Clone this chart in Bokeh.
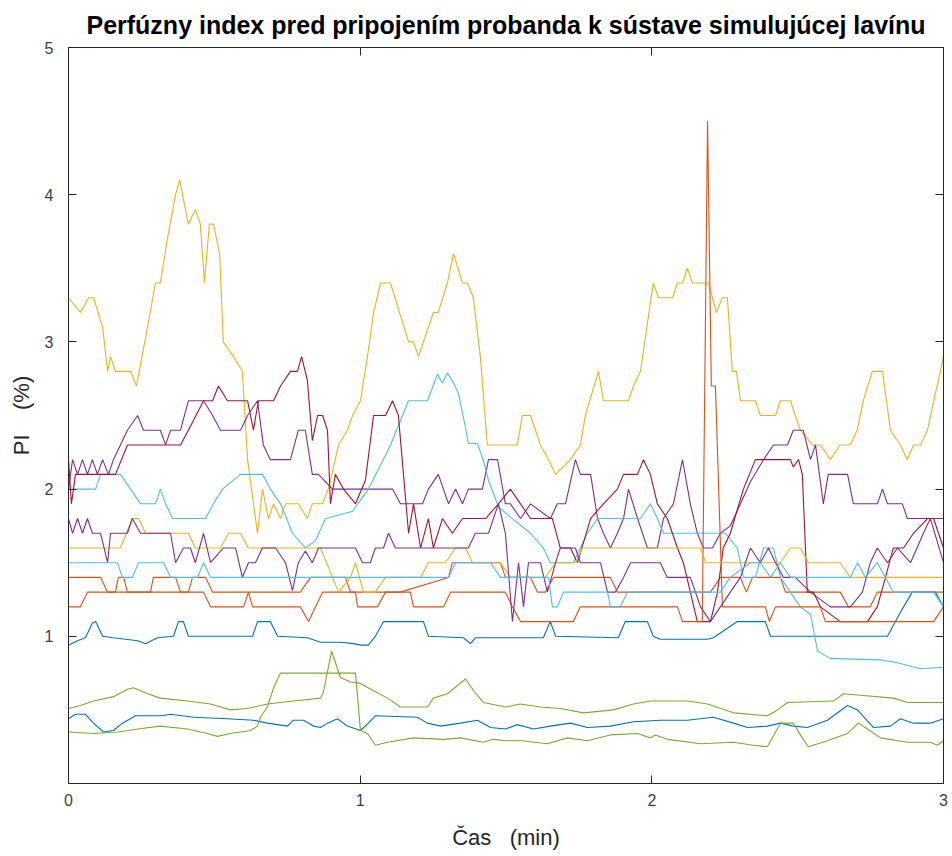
from bokeh.plotting import figure
from bokeh.models import Range1d, FixedTicker, LinearAxis
from bokeh.embed import file_html
from bokeh.resources import INLINE

# Perfusion index recordings: (time [min], PI [%]) per proband
pi_blue_1 = [(0, 0.94), (0.031, 0.97), (0.058, 0.99), (0.082, 1.09), (0.093, 1.1), (0.117, 1.0), (0.154, 0.99),
             (0.237, 0.97), (0.264, 0.95), (0.305, 0.99), (0.36, 1.0), (0.377, 1.1), (0.394, 1.1), (0.411, 1.0),
             (0.631, 1.0), (0.648, 1.1), (0.692, 1.1), (0.717, 1.0), (0.819, 0.99), (0.864, 0.96), (0.932, 0.96),
             (0.977, 0.95), (1.001, 0.94), (1.028, 0.94), (1.052, 1.0), (1.08, 1.1), (1.217, 1.1), (1.234, 1.0),
             (1.354, 0.99), (1.378, 0.95), (1.395, 0.99), (1.628, 0.99), (1.652, 1.1), (1.67, 1.0), (1.885, 0.99),
             (1.909, 1.1), (1.985, 1.1), (2.005, 1.0), (2.029, 0.98), (2.191, 0.98), (2.211, 0.99), (2.293, 1.1),
             (2.389, 1.1), (2.407, 1.0), (2.808, 1.0), (2.835, 1.1), (2.863, 1.2), (2.893, 1.3), (2.972, 1.3),
             (3.0, 1.2)]

pi_orange_1 = [(0, 1.4), (0.11, 1.4), (0.134, 1.3), (0.161, 1.3), (0.171, 1.4), (0.189, 1.4), (0.202, 1.3),
               (0.281, 1.3), (0.291, 1.4), (0.367, 1.4), (0.384, 1.3), (0.411, 1.3), (0.425, 1.4), (0.47, 1.4),
               (0.494, 1.3), (0.795, 1.3), (0.83, 1.4), (0.949, 1.4), (0.967, 1.3), (1.138, 1.3), (1.303, 1.4),
               (1.316, 1.5), (1.481, 1.5), (1.498, 1.4), (1.584, 1.4), (1.608, 1.3), (1.635, 1.3), (1.663, 1.4),
               (1.858, 1.4), (1.882, 1.3), (2.201, 1.3), (2.235, 1.4), (2.304, 1.4), (2.324, 1.3), (2.345, 1.4),
               (2.441, 1.4), (2.458, 1.3), (2.646, 1.3), (2.674, 1.2), (2.749, 1.2), (2.773, 1.3), (3.0, 1.3)]

pi_yellow_1 = [(0, 3.3), (0.041, 3.2), (0.069, 3.3), (0.086, 3.3), (0.117, 3.1), (0.134, 2.8), (0.144, 2.9),
               (0.161, 2.8), (0.213, 2.8), (0.233, 2.7), (0.271, 3.1), (0.298, 3.4), (0.315, 3.4), (0.339, 3.7),
               (0.367, 4.0), (0.381, 4.1), (0.411, 3.8), (0.435, 3.9), (0.452, 3.8), (0.466, 3.4), (0.483, 3.8),
               (0.497, 3.8), (0.518, 3.6), (0.531, 3.0), (0.566, 2.9), (0.596, 2.8), (0.614, 2.2), (0.648, 1.7),
               (0.665, 2.0), (0.686, 1.8), (0.703, 1.9), (0.727, 1.8), (0.744, 1.9), (0.788, 1.9), (0.819, 1.8),
               (0.836, 1.9), (0.871, 1.9), (0.891, 2.0), (0.926, 2.3), (0.956, 2.4), (0.974, 2.5), (1.001, 2.6),
               (1.025, 2.9), (1.046, 3.2), (1.07, 3.4), (1.104, 3.4), (1.166, 3.0), (1.183, 3.0), (1.2, 2.9),
               (1.251, 3.2), (1.268, 3.2), (1.299, 3.4), (1.32, 3.6), (1.351, 3.4), (1.368, 3.4), (1.388, 3.3),
               (1.412, 2.9), (1.436, 2.3), (1.539, 2.3), (1.556, 2.5), (1.584, 2.5), (1.618, 2.3), (1.646, 2.2),
               (1.67, 2.1), (1.721, 2.2), (1.755, 2.3), (1.772, 2.5), (1.817, 2.8), (1.834, 2.6), (1.92, 2.6),
               (1.937, 2.7), (1.961, 2.8), (2.005, 3.4), (2.023, 3.3), (2.071, 3.3), (2.088, 3.4), (2.105, 3.4),
               (2.122, 3.5), (2.139, 3.4), (2.194, 3.4), (2.208, 3.3), (2.221, 3.2), (2.242, 3.3), (2.259, 3.3),
               (2.276, 2.8), (2.29, 2.8), (2.304, 2.6), (2.355, 2.6), (2.372, 2.5), (2.424, 2.5), (2.441, 2.6),
               (2.475, 2.6), (2.509, 2.4), (2.551, 2.3), (2.578, 2.3), (2.612, 2.2), (2.646, 2.3), (2.68, 2.3),
               (2.704, 2.4), (2.725, 2.6), (2.756, 2.8), (2.791, 2.8), (2.818, 2.4), (2.852, 2.3), (2.876, 2.2),
               (2.897, 2.3), (2.921, 2.3), (2.945, 2.4), (3.0, 2.9)]

pi_purple_1 = [(0, 2.0), (0.014, 2.2), (0.031, 2.1), (0.048, 2.2), (0.065, 2.1), (0.082, 2.2), (0.099, 2.1),
               (0.117, 2.2), (0.137, 2.1), (0.154, 2.2), (0.202, 2.4), (0.237, 2.5), (0.257, 2.4), (0.315, 2.4),
               (0.333, 2.3), (0.35, 2.4), (0.384, 2.4), (0.411, 2.6), (0.463, 2.6), (0.494, 2.5), (0.521, 2.4),
               (0.59, 2.4), (0.614, 2.5), (0.648, 2.6), (0.668, 2.3), (0.692, 2.2), (0.761, 2.2), (0.788, 2.4),
               (0.812, 2.4), (0.836, 2.1), (0.857, 2.1), (0.905, 2.0), (1.111, 2.0), (1.138, 1.9), (1.214, 1.9),
               (1.234, 2.0), (1.268, 2.1), (1.303, 1.9), (1.327, 2.0), (1.351, 1.9), (1.371, 2.0), (1.419, 2.0),
               (1.44, 2.2), (1.471, 2.2), (1.498, 1.9), (1.515, 1.9), (1.55, 1.8), (1.584, 1.9), (1.652, 1.8),
               (1.676, 1.9), (1.704, 1.9), (1.738, 2.2), (1.755, 2.1), (1.79, 2.1), (1.814, 1.8), (1.834, 1.7),
               (1.858, 1.6), (1.882, 1.7), (1.903, 1.8), (1.92, 2.0), (1.951, 1.8), (1.985, 1.6), (2.019, 1.6),
               (2.04, 1.8), (2.074, 1.9), (2.105, 2.2), (2.132, 1.9), (2.156, 1.7), (2.177, 1.6), (2.208, 1.6),
               (2.235, 1.7), (2.269, 1.75), (2.304, 1.9), (2.338, 2.05), (2.383, 2.2), (2.417, 2.3), (2.465, 2.3),
               (2.485, 2.4), (2.519, 2.4), (2.544, 2.2), (2.561, 2.3), (2.588, 1.9), (2.605, 2.1), (2.671, 2.1),
               (2.691, 1.9), (2.773, 1.9), (2.791, 2.0), (2.808, 1.9), (2.859, 1.9), (2.876, 1.8), (3.0, 1.8)]

pi_green_1 = [(0, 0.51), (0.041, 0.53), (0.086, 0.56), (0.154, 0.59), (0.202, 0.64), (0.223, 0.65), (0.271, 0.61),
              (0.315, 0.58), (0.408, 0.56), (0.487, 0.54), (0.555, 0.5), (0.614, 0.51), (0.682, 0.54),
              (0.771, 0.56), (0.864, 0.58), (0.874, 0.62), (0.902, 0.9), (0.932, 0.72), (0.967, 0.69),
              (1.001, 0.68), (1.046, 0.63), (1.094, 0.58), (1.138, 0.52), (1.231, 0.52), (1.251, 0.58),
              (1.299, 0.61), (1.361, 0.71), (1.389, 0.63), (1.423, 0.55), (1.498, 0.52), (1.549, 0.54),
              (1.618, 0.52), (1.686, 0.51), (1.766, 0.48), (1.868, 0.5), (1.937, 0.54), (1.995, 0.56),
              (2.122, 0.56), (2.191, 0.54), (2.28, 0.48), (2.396, 0.46), (2.431, 0.5), (2.465, 0.55),
              (2.623, 0.56), (2.657, 0.61), (2.715, 0.6), (2.828, 0.58), (2.876, 0.55), (3.0, 0.55)]

pi_lightblue_1 = [(0, 2.0), (0.093, 2.0), (0.11, 2.1), (0.178, 2.1), (0.213, 2.0), (0.247, 1.9), (0.298, 1.9),
                  (0.315, 2.0), (0.333, 1.9), (0.357, 1.8), (0.47, 1.8), (0.497, 1.9), (0.528, 2.0), (0.59, 2.1),
                  (0.665, 2.1), (0.692, 2.0), (0.727, 1.9), (0.768, 1.7), (0.812, 1.6), (0.847, 1.65),
                  (0.881, 1.8), (0.974, 1.85), (1.028, 2.0), (1.087, 2.23), (1.104, 2.3), (1.145, 2.5),
                  (1.166, 2.6), (1.231, 2.6), (1.265, 2.78), (1.282, 2.72), (1.299, 2.79), (1.32, 2.72),
                  (1.337, 2.65), (1.361, 2.42), (1.371, 2.31), (1.402, 2.31), (1.423, 2.19), (1.44, 2.06),
                  (1.474, 1.88), (1.515, 1.81), (1.584, 1.7), (1.628, 1.6), (1.652, 1.5), (1.731, 1.5),
                  (1.779, 1.7), (1.814, 1.8), (1.961, 1.8), (1.995, 1.9), (2.019, 1.8), (2.04, 1.7), (2.201, 1.7),
                  (2.252, 1.7), (2.293, 1.6), (2.314, 1.4), (2.355, 1.4), (2.383, 1.6), (2.417, 1.6), (2.441, 1.4),
                  (2.475, 1.3), (2.509, 1.2), (2.544, 1.15), (2.568, 0.9), (2.612, 0.85), (2.784, 0.84),
                  (2.842, 0.82), (2.921, 0.78), (3.0, 0.79)]

pi_darkred_1 = [(0, 2.2), (0.01, 1.9), (0.024, 2.1), (0.161, 2.1), (0.202, 2.3), (0.384, 2.3), (0.411, 2.4),
                (0.463, 2.6), (0.494, 2.6), (0.514, 2.7), (0.545, 2.6), (0.614, 2.6), (0.634, 2.4), (0.651, 2.6),
                (0.703, 2.6), (0.727, 2.7), (0.761, 2.8), (0.785, 2.8), (0.799, 2.9), (0.819, 2.74), (0.836, 2.33),
                (0.854, 2.5), (0.871, 2.5), (0.888, 2.4), (0.898, 1.9), (0.915, 2.1), (0.943, 2.0), (0.984, 1.9),
                (1.018, 2.06), (1.046, 2.5), (1.087, 2.5), (1.111, 2.6), (1.131, 2.5), (1.166, 1.7), (1.183, 1.9),
                (1.207, 1.6), (1.234, 1.8), (1.251, 1.6), (1.282, 1.8), (1.316, 1.7), (1.351, 1.8), (1.43, 1.8),
                (1.474, 1.9), (1.515, 2.0), (1.584, 1.8), (1.659, 1.8), (1.686, 1.6), (1.721, 1.6), (1.745, 1.5),
                (1.79, 1.8), (1.834, 1.9), (1.882, 2.0), (1.903, 2.1), (1.951, 2.1), (1.971, 2.2), (1.995, 2.1),
                (2.019, 1.9), (2.053, 1.8), (2.088, 1.6), (2.108, 1.5), (2.132, 1.3), (2.156, 1.1), (2.201, 1.1),
                (2.225, 1.3), (2.245, 1.6), (2.269, 1.7), (2.314, 2.0), (2.355, 2.2), (2.475, 2.2), (2.485, 2.15),
                (2.503, 2.2), (2.516, 2.1), (2.533, 1.3), (2.554, 1.3), (2.578, 1.2), (2.646, 1.1), (2.739, 1.1),
                (2.773, 1.2), (2.801, 1.4), (2.828, 1.6), (2.863, 1.6), (2.897, 1.7), (2.945, 1.8), (2.966, 1.8),
                (3.0, 1.6)]

pi_blue_2 = [(0, 0.44), (0.024, 0.47), (0.058, 0.47), (0.086, 0.41), (0.12, 0.35), (0.154, 0.36), (0.185, 0.41),
             (0.23, 0.46), (0.315, 0.46), (0.35, 0.47), (0.429, 0.45), (0.545, 0.44), (0.634, 0.43), (0.682, 0.41),
             (0.751, 0.39), (0.771, 0.43), (0.806, 0.43), (0.84, 0.39), (0.864, 0.38), (0.888, 0.41), (0.922, 0.44),
             (0.956, 0.39), (1.001, 0.36), (1.028, 0.41), (1.052, 0.46), (1.196, 0.45), (1.231, 0.41),
             (1.275, 0.39), (1.344, 0.41), (1.402, 0.43), (1.447, 0.38), (1.498, 0.37), (1.539, 0.4),
             (1.594, 0.37), (1.652, 0.39), (1.721, 0.41), (1.779, 0.38), (1.858, 0.39), (1.937, 0.42),
             (2.029, 0.43), (2.122, 0.43), (2.211, 0.45), (2.28, 0.41), (2.328, 0.38), (2.396, 0.39),
             (2.441, 0.41), (2.485, 0.39), (2.533, 0.38), (2.602, 0.43), (2.671, 0.53), (2.705, 0.5),
             (2.76, 0.38), (2.818, 0.39), (2.852, 0.44), (2.897, 0.41), (2.955, 0.41), (3.0, 0.44)]

pi_orange_2 = [(0, 1.2), (0.041, 1.2), (0.065, 1.3), (0.463, 1.3), (0.487, 1.2), (0.6, 1.2), (0.617, 1.3),
               (0.631, 1.2), (0.795, 1.2), (0.823, 1.1), (0.847, 1.2), (0.871, 1.3), (0.984, 1.3), (0.991, 1.2),
               (1.059, 1.2), (1.087, 1.3), (1.172, 1.3), (1.183, 1.2), (1.286, 1.2), (1.31, 1.3), (1.498, 1.3),
               (1.522, 1.2), (1.55, 1.1), (1.731, 1.1), (1.755, 1.2), (2.088, 1.2), (2.105, 1.1), (2.173, 1.1),
               (2.191, 4.5), (2.204, 2.7), (2.218, 2.7), (2.242, 1.2), (2.28, 1.2), (2.389, 1.2), (2.403, 1.1),
               (2.424, 1.2), (2.578, 1.2), (2.595, 1.1), (2.966, 1.1), (3.0, 1.2)]

pi_yellow_2 = [(0, 1.6), (0.178, 1.6), (0.219, 1.8), (0.24, 1.8), (0.264, 1.7), (0.411, 1.7), (0.435, 1.6),
               (0.521, 1.6), (0.549, 1.7), (0.59, 1.7), (0.617, 1.6), (0.864, 1.6), (0.926, 1.3), (0.967, 1.4),
               (0.984, 1.5), (1.011, 1.3), (1.052, 1.3), (1.087, 1.4), (1.207, 1.4), (1.234, 1.5), (1.292, 1.5),
               (1.327, 1.6), (1.361, 1.6), (1.385, 1.5), (1.481, 1.5), (1.515, 1.4), (1.635, 1.4), (1.67, 1.5),
               (1.738, 1.5), (1.762, 1.6), (2.167, 1.6), (2.184, 1.5), (2.441, 1.5), (2.475, 1.6), (2.509, 1.6),
               (2.537, 1.5), (2.646, 1.5), (2.681, 1.4), (3.0, 1.4)]

pi_purple_2 = [(0, 1.8), (0.014, 1.7), (0.031, 1.8), (0.048, 1.7), (0.065, 1.8), (0.082, 1.7), (0.11, 1.7),
               (0.134, 1.5), (0.144, 1.7), (0.202, 1.7), (0.219, 1.8), (0.247, 1.7), (0.35, 1.7), (0.367, 1.5),
               (0.394, 1.6), (0.418, 1.6), (0.435, 1.5), (0.463, 1.7), (0.487, 1.5), (0.531, 1.6), (0.573, 1.6),
               (0.596, 1.4), (0.617, 1.5), (0.641, 1.5), (0.665, 1.6), (0.71, 1.6), (0.744, 1.5), (0.768, 1.31),
               (0.788, 1.5), (0.812, 1.58), (0.836, 1.5), (0.857, 1.6), (0.984, 1.6), (1.008, 1.5), (1.035, 1.5),
               (1.052, 1.6), (1.08, 1.6), (1.097, 1.7), (1.121, 1.6), (1.371, 1.6), (1.395, 1.7), (1.44, 1.7),
               (1.474, 1.9), (1.498, 1.7), (1.522, 1.1), (1.543, 1.5), (1.56, 1.2), (1.577, 1.5), (1.618, 1.5),
               (1.642, 1.3), (1.67, 1.5), (1.686, 1.6), (1.738, 1.6), (1.755, 1.5), (1.824, 1.5), (1.848, 1.3),
               (1.875, 1.3), (1.903, 1.4), (1.927, 1.5), (2.029, 1.5), (2.053, 1.4), (2.132, 1.4), (2.167, 1.2),
               (2.201, 1.1), (2.235, 1.2), (2.269, 1.3), (2.304, 1.4), (2.338, 1.6), (2.372, 1.5), (2.4, 1.6),
               (2.424, 1.5), (2.451, 1.4), (2.492, 1.4), (2.544, 1.3), (2.612, 1.2), (2.681, 1.2), (2.722, 1.3),
               (2.749, 1.5), (2.773, 1.6), (2.808, 1.5), (2.842, 1.6), (2.887, 1.5), (2.931, 1.7), (2.955, 1.8),
               (3.0, 1.5)]

pi_green_2 = [(0, 0.35), (0.086, 0.34), (0.168, 0.35), (0.237, 0.37), (0.315, 0.39), (0.408, 0.37), (0.476, 0.34),
              (0.511, 0.32), (0.555, 0.34), (0.624, 0.36), (0.648, 0.39), (0.658, 0.45), (0.682, 0.52),
              (0.703, 0.65), (0.727, 0.75), (0.984, 0.75), (1.001, 0.36), (1.025, 0.34), (1.052, 0.26),
              (1.094, 0.28), (1.183, 0.31), (1.286, 0.3), (1.344, 0.31), (1.423, 0.28), (1.457, 0.3),
              (1.498, 0.29), (1.556, 0.29), (1.642, 0.27), (1.711, 0.31), (1.779, 0.29), (1.858, 0.33),
              (1.951, 0.34), (1.995, 0.31), (2.012, 0.33), (2.054, 0.3), (2.167, 0.27), (2.28, 0.28),
              (2.348, 0.26), (2.396, 0.25), (2.441, 0.41), (2.485, 0.41), (2.516, 0.31), (2.537, 0.25),
              (2.602, 0.29), (2.671, 0.34), (2.708, 0.41), (2.739, 0.37), (2.784, 0.31), (2.876, 0.28),
              (2.955, 0.28), (2.979, 0.26), (3.0, 0.29)]

pi_lightblue_2 = [(0, 1.5), (0.168, 1.5), (0.185, 1.4), (0.219, 1.4), (0.24, 1.5), (0.326, 1.5), (0.35, 1.4),
                  (0.442, 1.4), (0.463, 1.5), (0.487, 1.4), (1.303, 1.4), (1.327, 1.5), (1.447, 1.5),
                  (1.481, 1.4), (1.646, 1.4), (1.659, 1.2), (1.676, 1.2), (1.697, 1.3), (1.848, 1.3),
                  (1.858, 1.2), (1.892, 1.2), (1.916, 1.3), (2.235, 1.3), (2.269, 1.4), (2.338, 1.5),
                  (2.372, 1.5), (2.407, 1.4), (2.441, 1.5), (2.475, 1.4), (2.681, 1.4), (2.705, 1.5),
                  (2.732, 1.4), (2.773, 1.5), (2.828, 1.3), (2.966, 1.3), (3.0, 1.2)]

# drawing order follows the default MATLAB colour cycle
series = [pi_blue_1, pi_orange_1, pi_yellow_1, pi_purple_1, pi_green_1, pi_lightblue_1, pi_darkred_1,
          pi_blue_2, pi_orange_2, pi_yellow_2, pi_purple_2, pi_green_2, pi_lightblue_2]
colors = ["#0072BD", "#D95319", "#EDB120", "#7E2F8E", "#77AC30", "#4DBEEE", "#A2142F"]

x_ticks = [0, 1, 2, 3]
y_ticks = [1, 2, 3, 4, 5]

TEXT = "#262626"
FONT = "Liberation Sans"
NBSP = "\u00a0"

p = figure(width=952, height=856, output_backend="svg", toolbar_location=None,
           x_range=Range1d(0, 3), y_range=Range1d(0, 5),
           min_border_left=68, min_border_right=9, min_border_top=47, min_border_bottom=73,
           background_fill_color="white", border_fill_color="white")
p.grid.visible = False
p.outline_line_color = TEXT
p.outline_line_width = 1

p.title.text = "Perfúzny index pred pripojením probanda k sústave simulujúcej lavínu"
p.title.align = "center"
p.title.vertical_align = "top"
p.title.text_font = FONT
p.title.text_font_size = "25px"
p.title.text_font_style = "bold"
p.title.text_color = "black"
p.title.standoff = 13

for i, s in enumerate(series):
    xs = [t for t, _ in s]
    ys = [v for _, v in s]
    p.line(xs, ys, line_color=colors[i % len(colors)], line_width=1.1)


def style_axis(ax, ticks):
    ax.ticker = FixedTicker(ticks=ticks)
    ax.major_tick_in = 8
    ax.major_tick_out = 0
    ax.minor_tick_line_color = None
    ax.axis_line_color = TEXT
    ax.major_tick_line_color = TEXT
    ax.major_label_text_color = "#404040"
    ax.major_label_text_font = FONT
    ax.major_label_text_font_size = "16px"
    ax.axis_label_text_font = FONT
    ax.axis_label_text_font_size = "22px"
    ax.axis_label_text_font_style = "normal"
    ax.axis_label_text_color = TEXT


style_axis(p.xaxis[0], x_ticks)
p.xaxis[0].axis_label = "Čas" + NBSP * 3 + "(min)"
p.xaxis[0].major_label_standoff = 10
p.xaxis[0].axis_label_standoff = 16

style_axis(p.yaxis[0], y_ticks)
p.yaxis[0].axis_label = "PI" + NBSP * 4 + "(%)"
p.yaxis[0].major_label_standoff = 15
p.yaxis[0].axis_label_standoff = 8

# tick marks on the top and right edges of the box, without labels
top = LinearAxis()
style_axis(top, x_ticks)
top.major_label_text_color = None
top.major_label_standoff = 0
p.add_layout(top, "above")

right = LinearAxis()
style_axis(right, y_ticks)
right.major_label_text_color = None
right.major_label_standoff = 0
p.add_layout(right, "right")

open("out.html", "w").write(file_html(p, INLINE))
